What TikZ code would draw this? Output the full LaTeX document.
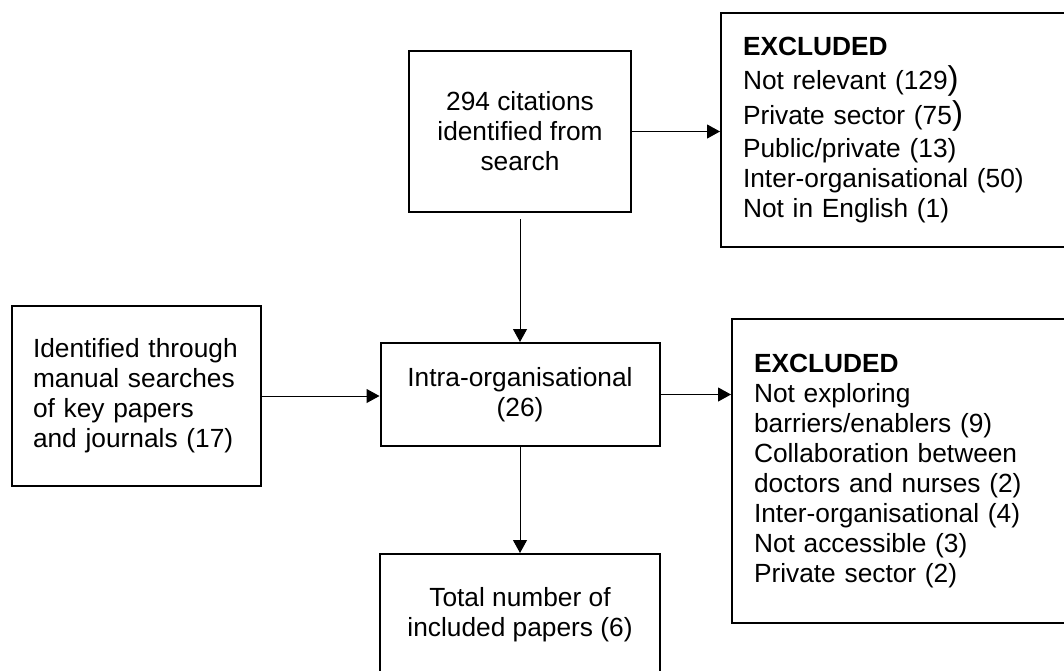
\documentclass[tikz,border=0pt]{standalone}
\usepackage{fontspec}
\setmainfont{Liberation Sans}
\usetikzlibrary{arrows.meta}
% enlarged closing parenthesis used in two exclusion lines
\newcommand\bigclose{{\fontsize{33}{30}\selectfont )}}
\begin{document}
\begin{tikzpicture}[x=1pt,y=-1pt,
  every node/.style={font=\fontsize{26.3}{30}\selectfont},
  box/.style={draw, line width=2pt, inner sep=0pt, align=center},
  exbox/.style={draw, line width=2pt, anchor=west, align=left,
                inner xsep=22pt, inner ysep=0pt, text width=330pt},
  arr/.style={line width=1pt, -{Triangle[length=13pt,width=14pt]}}]
\clip (0,0) rectangle (1064,670);

% main flow
\node[box, minimum width=222pt, minimum height=161pt] (cite) at (520,131.5)
  {294 citations\\identified from\\search};
\node[box, minimum width=279pt, minimum height=103pt] (intra) at (520,394.5)
  {Intra-organisational\\(26)};
\node[box, minimum width=280pt, minimum height=122pt] (total) at (520,615)
  {Total number of\\included papers (6)};

% additional source
\node[box, align=left, inner xsep=21pt, text width=207pt, minimum height=180pt]
  (manual) at (136.5,396)
  {Identified through\\manual searches\\of key papers\\and journals (17)};

% exclusion boxes
\node[exbox, minimum height=234pt] (ex1) at (720,130)
  {\textbf{EXCLUDED}\\[4pt]
   Not relevant (129\bigclose\\[4pt]
   Private sector (75\bigclose\\[3pt]
   Public/private (13)\\
   Inter-organisational (50)\\
   Not in English (1)};
\node[exbox, minimum height=304pt] (ex2) at (731,471)
  {\textbf{EXCLUDED}\\
   Not exploring\\
   barriers/enablers (9)\\
   Collaboration between\\
   doctors and nurses (2)\\
   Inter-organisational (4)\\
   Not accessible (3)\\
   Private sector (2)};

% connectors
\draw[arr] (cite.east) -- (cite.east -| ex1.west);
\draw[arr, shorten <=6pt] (cite) -- (intra);
\draw[arr] (manual.east) -- (manual.east -| intra.west);
\draw[arr] (intra.east) -- (intra.east -| ex2.west);
\draw[arr] (intra) -- (total);
\end{tikzpicture}
\end{document}
